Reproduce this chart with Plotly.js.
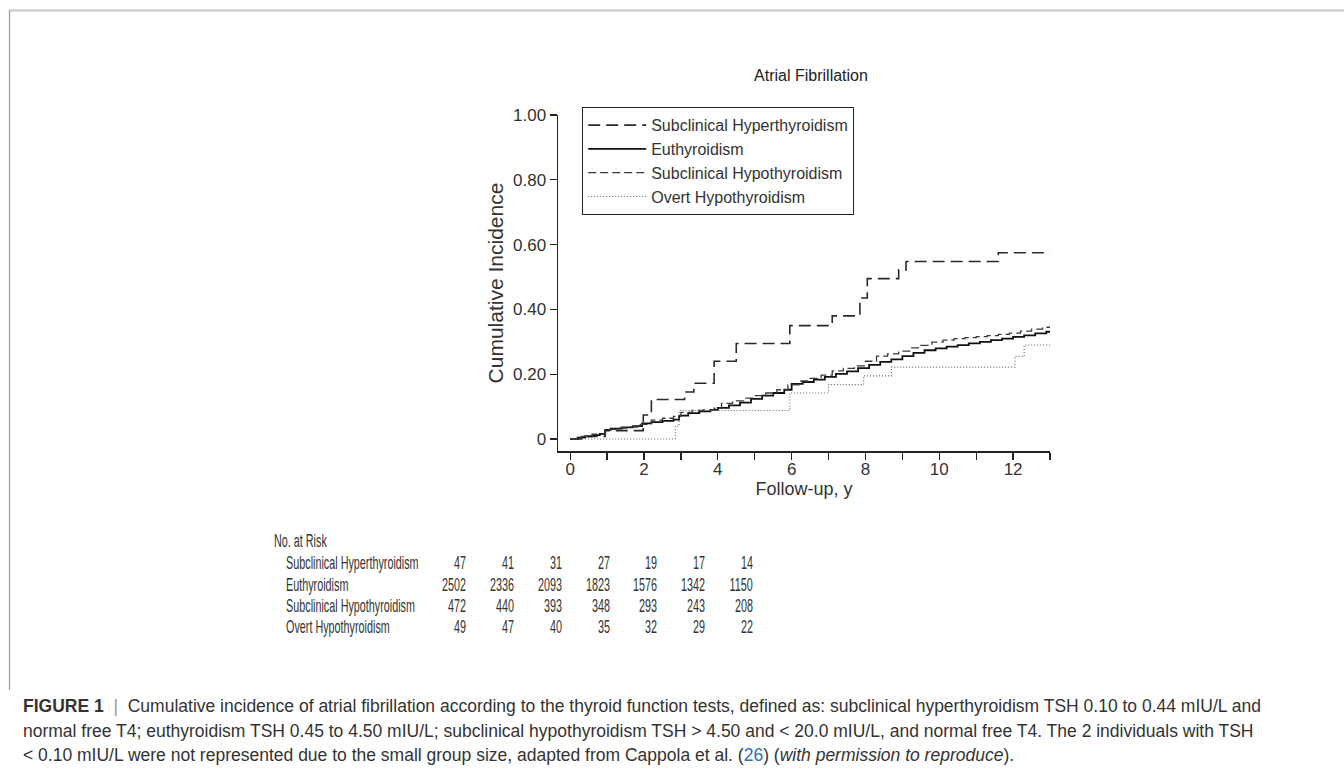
<!DOCTYPE html>
<html>
<head>
<meta charset="utf-8">
<script src="https://cdn.plot.ly/plotly-3.0.1.min.js"></script>
<style>html,body{margin:0;padding:0;background:#fff;}#chart{width:1344px;height:775px;}</style>
</head>
<body>
<div id="chart"></div>
<script>
// ---------- data ----------
const seriesNames = ["Subclinical Hyperthyroidism", "Euthyroidism", "Subclinical Hypothyroidism", "Overt Hypothyroidism"];

const hyperT = [0, 0.4, 0.95, 1.98, 2.2, 3.1, 3.35, 3.9, 4.5, 5.95, 7.1, 7.85, 8.05, 8.9, 9.1, 11.6, 13];
const hyperV = [0, 0.008, 0.026, 0.074, 0.122, 0.145, 0.172, 0.24, 0.295, 0.35, 0.38, 0.435, 0.495, 0.522, 0.548, 0.575, 0.575];

const euT = [0, 0.2, 0.4, 0.6, 0.8, 0.95, 1.1, 1.4, 1.7, 1.95, 2.2, 2.5, 2.8, 2.95, 3.2, 3.5, 3.8, 4.0, 4.3, 4.6, 4.9, 5.2, 5.5, 5.8, 6.0, 6.3, 6.6, 6.9, 7.2, 7.5, 7.8, 8.1, 8.4, 8.7, 9.0, 9.3, 9.6, 9.9, 10.2, 10.5, 10.8, 11.1, 11.4, 11.7, 12.0, 12.3, 12.6, 12.9, 13];
const euV = [0, 0.004, 0.008, 0.012, 0.016, 0.028, 0.032, 0.036, 0.04, 0.048, 0.052, 0.056, 0.06, 0.072, 0.08, 0.085, 0.09, 0.096, 0.104, 0.112, 0.124, 0.134, 0.142, 0.152, 0.17, 0.176, 0.183, 0.192, 0.201, 0.209, 0.219, 0.229, 0.238, 0.246, 0.256, 0.266, 0.274, 0.28, 0.285, 0.29, 0.295, 0.3, 0.305, 0.31, 0.315, 0.32, 0.326, 0.331, 0.333];

const hypoT = [0, 0.3, 0.6, 0.95, 1.3, 1.6, 1.9, 2.2, 2.5, 2.8, 3.0, 3.3, 3.6, 3.9, 4.1, 4.4, 4.7, 5.0, 5.3, 5.6, 5.9, 6.2, 6.5, 6.8, 7.1, 7.4, 7.7, 8.0, 8.3, 8.6, 8.9, 9.2, 9.5, 9.8, 10.1, 10.4, 10.7, 11.0, 11.3, 11.6, 11.9, 12.2, 12.5, 12.8, 13];
const hypoV = [0, 0.008, 0.015, 0.03, 0.034, 0.037, 0.045, 0.058, 0.064, 0.07, 0.082, 0.088, 0.09, 0.095, 0.11, 0.118, 0.126, 0.134, 0.142, 0.152, 0.167, 0.179, 0.187, 0.197, 0.21, 0.218, 0.226, 0.24, 0.256, 0.263, 0.271, 0.281, 0.289, 0.299, 0.305, 0.31, 0.313, 0.316, 0.319, 0.323, 0.327, 0.333, 0.339, 0.345, 0.347];

const overtT = [0, 2.85, 2.95, 5.95, 7.0, 7.95, 8.7, 12.05, 12.3, 13];
const overtV = [0, 0.04, 0.088, 0.142, 0.168, 0.195, 0.222, 0.255, 0.29, 0.29];

const xTickVals = [0,1,2,3,4,5,6,7,8,9,10,11,12,13];
const xTickText = ["0","","2","","4","","6","","8","","10","","12",""];
const yTickVals = [0, 0.2, 0.4, 0.6, 0.8, 1.0];
const yTickText = ["0", "0.20", "0.40", "0.60", "0.80", "1.00"];

const riskTitle = "No. at Risk";
const riskTimes = [0, 2, 4, 6, 8, 10, 12];
const riskHyper = [47, 41, 31, 27, 19, 17, 14];
const riskEu = [2502, 2336, 2093, 1823, 1576, 1342, 1150];
const riskHypo = [472, 440, 393, 348, 293, 243, 208];
const riskOvert = [49, 47, 40, 35, 32, 29, 22];

const captionLines = [
  "<b>FIGURE 1</b>  <span style='color:#999'>|</span>  Cumulative incidence of atrial fibrillation according to the thyroid function tests, defined as: subclinical hyperthyroidism TSH 0.10 to 0.44 mIU/L and",
  "normal free T4; euthyroidism TSH 0.45 to 4.50 mIU/L; subclinical hypothyroidism TSH &gt; 4.50 and &lt; 20.0 mIU/L, and normal free T4. The 2 individuals with TSH",
  "&lt; 0.10 mIU/L were not represented due to the small group size, adapted from Cappola et al. (<span style='color:#2f6eb5'>26</span>) (<i>with permission to reproduce</i>)."
];

// ---------- layout helpers ----------
const W = 1344, H = 775;
const M = {l: 558, r: 294, t: 115, b: 324};
const PW = W - M.l - M.r, PH = H - M.t - M.b;
const px = v => (v - M.l) / PW;
const py = v => (H - M.b - v) / PH;

const FONT = "Liberation Sans, Arial, Helvetica, sans-serif";
const TXT = "#333";
const NARROW_SCALE = 0.6;

const traces = [
  {x: hyperT, y: hyperV, name: seriesNames[0], mode: "lines", line: {shape: "hv", color: "#2a2a2a", width: 1.6, dash: "12px,6px"}},
  {x: euT, y: euV, name: seriesNames[1], mode: "lines", line: {shape: "hv", color: "#111", width: 1.8}},
  {x: hypoT, y: hypoV, name: seriesNames[2], mode: "lines", line: {shape: "hv", color: "#3a3a3a", width: 1.3, dash: "8px,4px"}},
  {x: overtT, y: overtV, name: seriesNames[3], mode: "lines", line: {shape: "hv", color: "#666", width: 1.1, dash: "1px,2px"}}
];

const annotations = [];
const narrowAnchors = {}; // annotation index -> 'left' | 'right'
const riskRows = [riskHyper, riskEu, riskHypo, riskOvert];
const rowY = [563, 585, 606, 627];
const colRight = [468, 516, 564, 612, 659, 707, 755];
function addNarrow(text, x, y, anchor) {
  narrowAnchors[annotations.length] = anchor;
  annotations.push({text: text, xref: "paper", yref: "paper", x: px(x), y: py(y), xanchor: anchor, yanchor: "middle", showarrow: false, font: {family: FONT, size: 18, color: TXT}});
}
addNarrow(riskTitle, 272, 541, "left");
riskRows.forEach((row, r) => {
  addNarrow(seriesNames[r], 284, rowY[r], "left");
  row.forEach((n, i) => addNarrow(String(n), colRight[i], rowY[r], "right"));
});
const capY = [706, 731, 755];
captionLines.forEach((t, i) => {
  annotations.push({text: t, xref: "paper", yref: "paper", x: px(21), y: py(capY[i]), xanchor: "left", yanchor: "middle", showarrow: false, align: "left", font: {family: FONT, size: 17.5, color: "#333"}});
});

const shapes = [
  {type: "line", xref: "paper", yref: "paper", x0: px(9), x1: px(1344), y0: py(10.5), y1: py(10.5), line: {color: "#c8c8c8", width: 2}},
  {type: "line", xref: "paper", yref: "paper", x0: px(9.5), x1: px(9.5), y0: py(10), y1: py(690), line: {color: "#a0a0a0", width: 1.3}}
];

const layout = {
  width: W, height: H,
  margin: M,
  paper_bgcolor: "#fff", plot_bgcolor: "#fff",
  font: {family: FONT, color: TXT},
  title: {text: "Atrial Fibrillation", x: 811 / W, xref: "container", y: 1 - 75 / H, yref: "container", xanchor: "center", yanchor: "middle", font: {family: FONT, size: 16, color: "#222"}},
  showlegend: true,
  legend: {x: px(582), y: py(107), xanchor: "left", yanchor: "top", bgcolor: "#fff", bordercolor: "#222", borderwidth: 1.2, font: {family: FONT, size: 16, color: TXT}, itemwidth: 58, tracegroupgap: 0},
  xaxis: {
    range: [-0.33, 13], tickmode: "array", tickvals: xTickVals, ticktext: xTickText,
    ticks: "outside", ticklen: 7, tickwidth: 1.2, tickcolor: "#222",
    showline: true, linecolor: "#222", linewidth: 1.5, showgrid: false, zeroline: false,
    tickfont: {family: FONT, size: 17, color: TXT}, ticklabelstandoff: -5,
    title: {text: "Follow-up, y", font: {family: FONT, size: 18, color: TXT}, standoff: 0}
  },
  yaxis: {
    range: [-0.037, 1.0], tickmode: "array", tickvals: yTickVals, ticktext: yTickText,
    ticks: "outside", ticklen: 7, tickwidth: 1.2, tickcolor: "#222",
    showline: true, linecolor: "#222", linewidth: 1.5, showgrid: false, zeroline: false,
    tickfont: {family: FONT, size: 17, color: TXT},
    title: {text: "Cumulative Incidence", font: {family: FONT, size: 21, color: TXT}, standoff: 3}
  },
  annotations: annotations,
  shapes: shapes
};

Plotly.newPlot("chart", traces, layout, {staticPlot: true, displayModeBar: false}).then(gd => {
  // condense the "No. at Risk" table text horizontally, as in the original figure
  gd.querySelectorAll("g.annotation").forEach(g => {
    const idx = +g.getAttribute("data-index");
    const anchor = narrowAnchors[idx];
    if (!anchor) return;
    const t = g.querySelector("text.annotation-text");
    if (!t) return;
    const bb = t.getBBox();
    const ax = anchor === "left" ? bb.x : bb.x + bb.width;
    const prev = t.getAttribute("transform") || "";
    t.setAttribute("transform", prev + " translate(" + ax + " 0) scale(" + NARROW_SCALE + " 1) translate(" + (-ax) + " 0)");
  });
});
</script>
</body>
</html>
